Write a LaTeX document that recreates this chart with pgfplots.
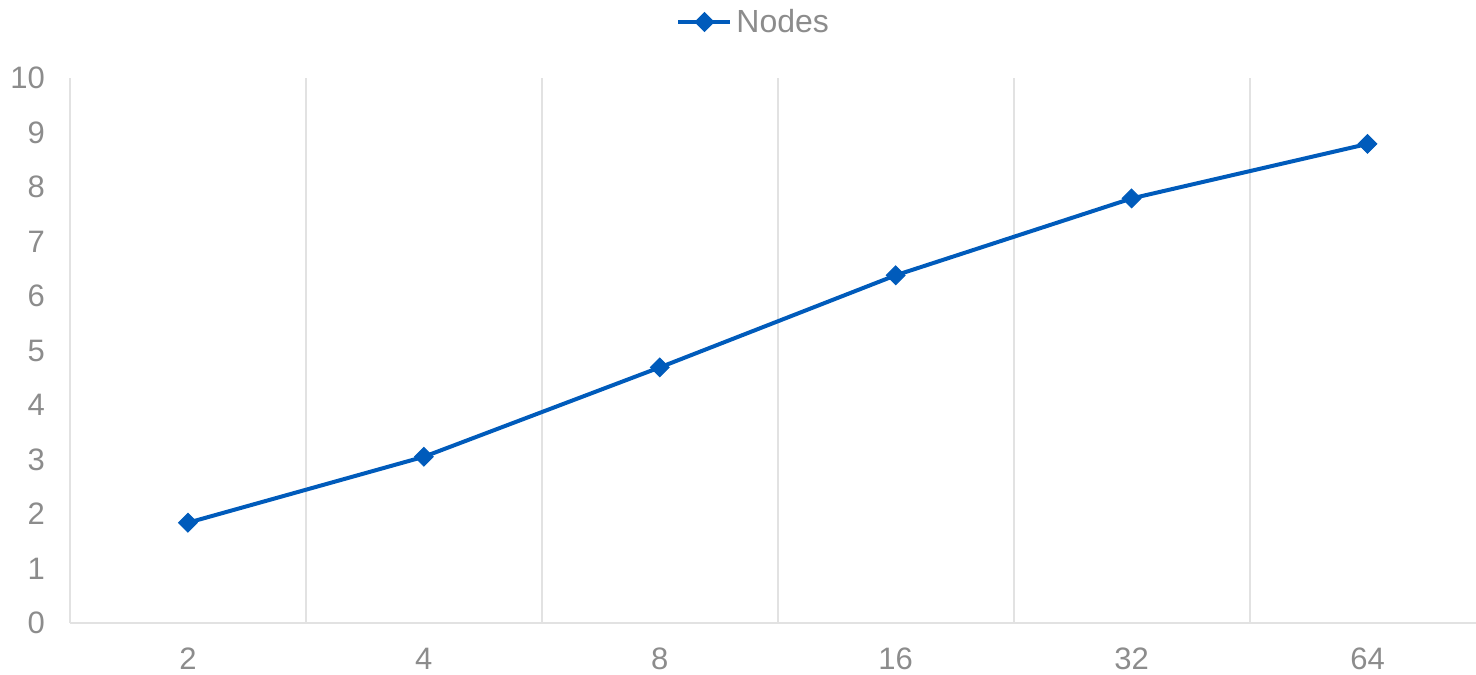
\documentclass[border=0pt]{standalone}
\usepackage{fontspec}
\setmainfont{Liberation Sans}
\usepackage{pgfplots}
\pgfplotsset{compat=1.18}
\definecolor{seriesblue}{RGB}{0,91,187}
\definecolor{labelgray}{RGB}{140,140,140}
\definecolor{gridgray}{RGB}{226,226,226}
\begin{document}
\begin{tikzpicture}
\path[use as bounding box] (0,0) rectangle (738pt,337pt);
\begin{axis}[
  at={(35pt,25.5pt)}, anchor=south west,
  scale only axis, width=703pt, height=272.5pt,
  xmin=-0.5, xmax=5.46, ymin=0, ymax=10,
  xtick={0,...,5}, xticklabels={2,4,8,16,32,64},
  ytick={0,...,10},
  minor xtick={0.5,1.5,2.5,3.5,4.5,5.5},
  xminorgrids=true,
  minor grid style={gridgray, line width=1pt},
  major tick length=0pt, minor tick length=0pt,
  axis x line=bottom, axis y line=left,
  axis line style={gridgray, line width=1pt, -},
  tick label style={font=\fontsize{15.5}{18}\selectfont, text=labelgray},
  /pgf/number format/assume math mode=true,
  xticklabel style={yshift=-9pt},
  yticklabel style={xshift=-9pt},
  legend style={at={(axis description cs:0.487,1)}, anchor=center, yshift=28pt,
    draw=none, fill=none, font=\fontsize{16}{19}\selectfont, text=labelgray,
    legend columns=1, inner sep=0pt},
  legend image code/.code={
    \draw[#1, mark repeat=2, mark phase=2] plot coordinates {(0pt,0pt) (13pt,0pt) (26pt,0pt)};
  },
  clip=false,
]
\addplot[color=seriesblue, line width=2pt, mark=square*, mark size=3.3pt,
  mark options={solid, rotate=45, fill=seriesblue, draw=seriesblue, line width=0.5pt}]
  coordinates {(0,1.84) (1,3.05) (2,4.69) (3,6.38) (4,7.79) (5,8.79)};
\addlegendentry{Nodes}
\end{axis}
\end{tikzpicture}
\end{document}
